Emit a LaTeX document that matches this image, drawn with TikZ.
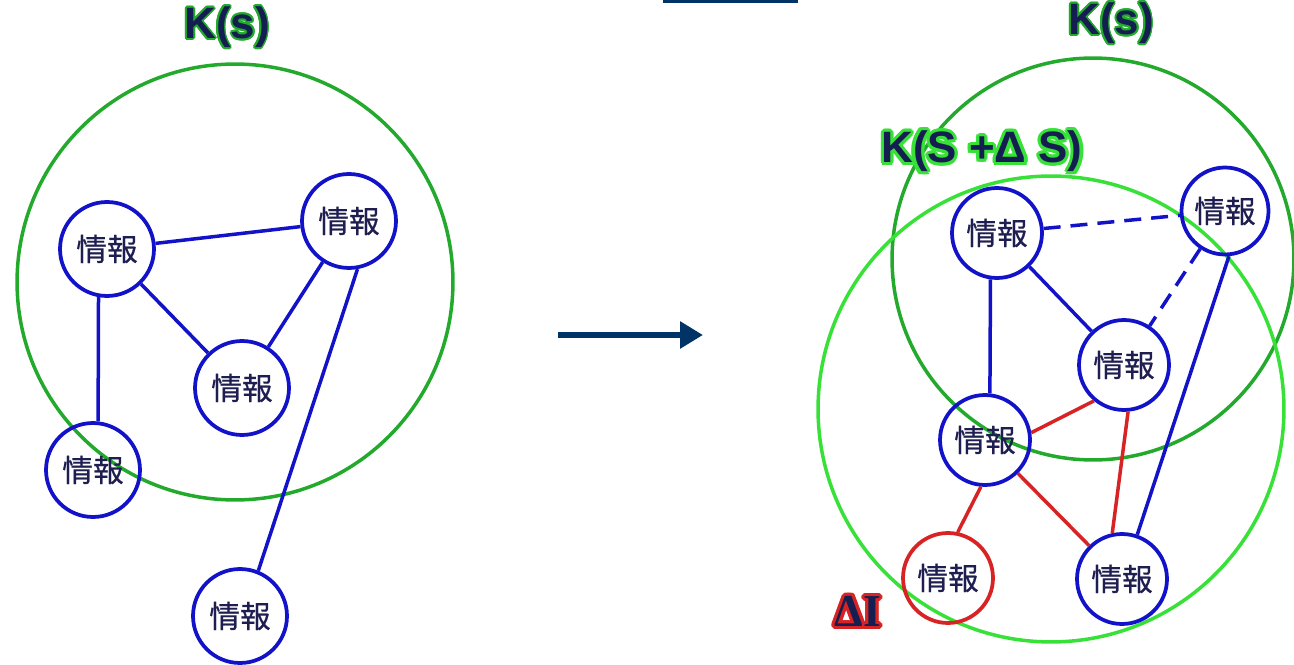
\documentclass[tikz,border=0pt]{standalone}
\usepackage{fontspec}
\usepackage[copies]{contour}
\usepackage{xcolor}
\usepackage{tikz}
\usetikzlibrary{arrows.meta, positioning}
\setmainfont{Liberation Sans}
\newfontfamily\jpfont[FakeBold=0.5]{Noto Sans CJK JP}
\newfontfamily\serifbf{Liberation Serif}

\definecolor{infoblue}{RGB}{18,18,200}
\definecolor{infotext}{RGB}{30,30,80}
\definecolor{linkred}{RGB}{215,35,35}
\definecolor{setgreen}{RGB}{35,170,45}
\definecolor{newgreen}{RGB}{55,225,55}
\definecolor{arrownavy}{RGB}{0,51,102}
\definecolor{labelnavy}{RGB}{20,30,80}

\begin{document}
\begin{tikzpicture}[x=0.02cm, y=-0.02cm,
    info/.style={circle, draw=infoblue, line width=0.075cm, inner sep=0pt,
      minimum size=1.8cm, text=infotext, font=\jpfont\fontsize{17.5}{19}\selectfont},
    newinfo/.style={info, draw=linkred},
    link/.style={draw=infoblue, line width=0.07cm},
    newlink/.style={draw=linkred, line width=0.07cm},
    weaklink/.style={link, dash pattern=on 0.34cm off 0.2cm},
    setlabel/.style={text=labelnavy, inner sep=0pt, font=\bfseries\fontsize{25}{30}\selectfont}]
  \useasboundingbox (0,0) rectangle (1294,665);

  % sets
  \draw[setgreen, line width=0.07cm] (235,282) circle[radius=4.36cm];
  \draw[setgreen, line width=0.07cm] (1093,259) circle[radius=4.02cm];
  \draw[newgreen, line width=0.07cm] (1051,409) circle[radius=4.66cm];

  \node[setlabel] (KsL) at (227,28) {\contourlength{1pt}\contour{setgreen}{K(s)}};
  \node[setlabel] (KsR) at (1111,24) {\contourlength{1pt}\contour{setgreen}{K(s)}};
  \node[setlabel] (KsNew) at (982,153) {\contourlength{1.8pt}\contour{newgreen}{K(S +Δ S)}};
  \node[text=labelnavy, inner sep=0pt, font=\serifbf\bfseries\fontsize{26}{30}\selectfont]
    (dI) at (858,613) {\contourlength{1.8pt}\contour{linkred}{ΔI}};

  % before
  \node[info, minimum size=1.88cm] (L1) at (107,249) {情報};
  \node[info, minimum size=1.88cm] (L2) at (349,221) {情報};
  \node[info, minimum size=1.88cm] (L3) at (242,388) {情報};
  \node[info, minimum size=1.88cm] (L4) at (93,470) {情報};
  \node[info, minimum size=1.88cm] (L5) at (240,616) {情報};
  \draw[link] (L1) -- (L2);
  \draw[link] (L1) -- (L3);
  \draw[link] (L1.260) -- (L4.84);
  \draw[link] (L2) -- (L3);
  \draw[link] (L2.280) -- (L5.68);

  % step
  \coordinate (go) at (558,335);
  \coordinate (gone) at (703,335);
  \draw[arrownavy, line width=0.14cm, -{Triangle[length=0.46cm, width=0.52cm]}] (go) -- (gone);
  \draw[arrownavy, line width=0.05cm] (663,1.5) -- (798,1.5);

  % after
  \node[info] (R1) at (997,233) {情報};
  \node[info, minimum size=1.74cm] (R2) at (1225,211) {情報};
  \node[info] (R3) at (1124,365) {情報};
  \node[info] (R4) at (985,440) {情報};
  \node[info] (R5) at (1122,579) {情報};
  \node[newinfo] (R6) at (948,578) {情報};
  \draw[weaklink] (R1) -- (R2);
  \draw[weaklink] (R2) -- (R3);
  \draw[link] (R1) -- (R3);
  \draw[link] (R1.262) -- (R4.84);
  \draw[link] (R2.275) -- (R5.71);
  \draw[newlink] (R3.230) -- (R4.9);
  \draw[newlink] (R3.275) -- (R5.102);
  \draw[newlink] (R4.265) -- (R6.78);
  \draw[newlink] (R4) -- (R5);
\end{tikzpicture}
\end{document}
